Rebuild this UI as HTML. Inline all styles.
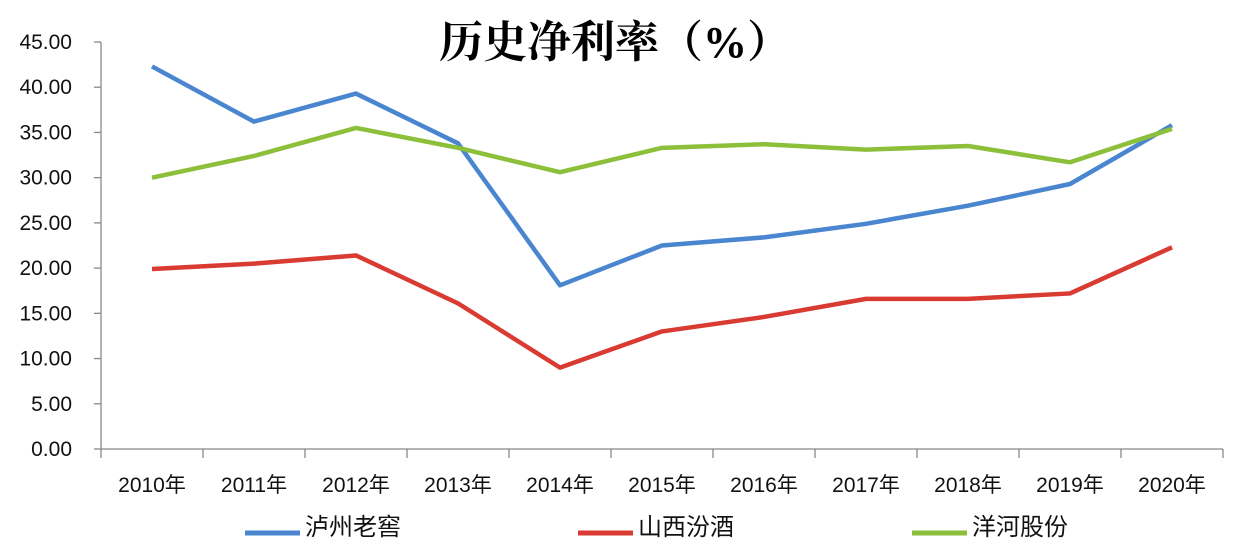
<!DOCTYPE html>
<html><head><meta charset="utf-8"><style>
html,body{margin:0;padding:0;background:#fff;width:1246px;height:550px;overflow:hidden}
text{font-family:"Liberation Sans","Noto Sans CJK SC",sans-serif}
</style></head><body>
<svg id="chart" width="1246" height="550" xmlns="http://www.w3.org/2000/svg">
<text x="615" y="57" text-anchor="middle" font-size="44" font-weight="bold" style="font-family:'Liberation Serif','Noto Serif CJK SC',serif" fill="#000">历史净利率（%）</text>
<g id="axes"></g><g id="series"></g><g id="legend"></g>
</svg>
<script>
const categories=["2010年","2011年","2012年","2013年","2014年","2015年","2016年","2017年","2018年","2019年","2020年"];
const yTicks=[0,5,10,15,20,25,30,35,40,45];
const seriesNames=["泸州老窖","山西汾酒","洋河股份"];
const seriesColors=["#4a86d0","#d93a32","#8cbf3a"];
const luzhou=[42.3,36.2,39.3,33.8,18.1,22.5,23.4,24.9,26.9,29.3,35.8];
const fenjiu=[19.9,20.5,21.4,16.1,9.0,13.0,14.6,16.6,16.6,17.2,22.3];
const yanghe=[30.0,32.4,35.5,33.3,30.6,33.3,33.7,33.1,33.5,31.7,35.4];
const allSeries=[luzhou,fenjiu,yanghe];
const NS="http://www.w3.org/2000/svg";
const x0=101,step=102,y0=449,yMax=45,ppu=(449-42)/45;
function xPos(i){return x0+step*(i+0.5);}
function yPos(v){return y0-v*ppu;}
function mk(t,a,p){const e=document.createElementNS(NS,t);for(const k in a)e.setAttribute(k,a[k]);p.appendChild(e);return e;}
const axes=document.getElementById('axes');
let yl=mk('line',{x1:x0,y1:yPos(yMax),x2:x0,y2:y0,stroke:'#888','stroke-width':1.3},axes);


let xl=mk('line',{x1:x0,y1:y0,x2:x0+step*categories.length,y2:y0,stroke:'#888','stroke-width':1.3},axes);


yTicks.forEach(v=>{
 mk('line',{x1:x0-7,y1:yPos(v),x2:x0,y2:yPos(v),stroke:'#888','stroke-width':1.3},axes);
 const t=mk('text',{x:72,y:yPos(v)+7,'text-anchor':'end','font-size':21,fill:'#111'},axes);
 t.textContent=v.toFixed(2);
 
 
});
for(let i=0;i<=categories.length;i++)mk('line',{x1:x0+step*i,y1:y0,x2:x0+step*i,y2:y0+9,stroke:'#888','stroke-width':1.3},axes);
categories.forEach((c,i)=>{
 const t=mk('text',{x:xPos(i),y:492,'text-anchor':'middle','font-size':21,fill:'#111'},axes);
 t.textContent=c;
 
 
});
const sg=document.getElementById('series');
allSeries.forEach((d,s)=>{
 const p=mk('polyline',{points:d.map((v,i)=>xPos(i)+','+yPos(v)).join(' '),fill:'none',stroke:seriesColors[s],'stroke-width':4.5,'stroke-linejoin':'round'},sg);
 
 
});
const lg=document.getElementById('legend');
const lx=[245,578,912];
seriesNames.forEach((n,s)=>{
 const l=mk('line',{x1:lx[s],y1:533,x2:lx[s]+55,y2:533,stroke:seriesColors[s],'stroke-width':5},lg);
 
 
 const t=mk('text',{x:lx[s]+60,y:535,'font-size':24,fill:'#111'},lg);
 t.textContent=n;
 
 
});
</script>
</body></html>
